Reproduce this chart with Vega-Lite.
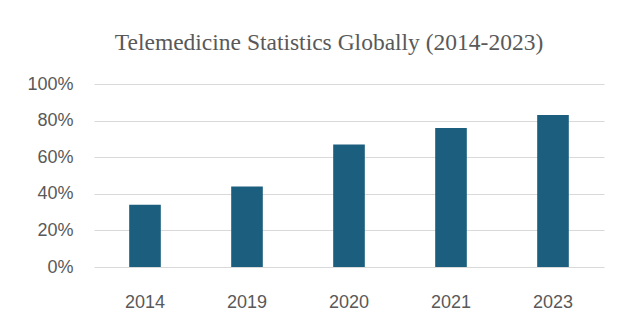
{
  "$schema": "https://vega.github.io/schema/vega-lite/v6.json",
  "width": 510,
  "height": 183,
  "autosize": {"type": "none"},
  "padding": {"left": 94, "top": 84, "right": 20, "bottom": 65},
  "background": "white",
  "title": {
    "text": "Telemedicine Statistics Globally (2014-2023)",
    "font": "Liberation Serif",
    "fontSize": 23.5,
    "fontWeight": "normal",
    "color": "#595959",
    "anchor": "middle",
    "dx": -20,
    "offset": 21
  },
  "data": {
    "values": [
      {"year": "2014", "share": 0.34},
      {"year": "2019", "share": 0.44},
      {"year": "2020", "share": 0.67},
      {"year": "2021", "share": 0.76},
      {"year": "2023", "share": 0.83}
    ]
  },
  "mark": {"type": "bar", "color": "#1b5e7e"},
  "encoding": {
    "x": {
      "field": "year",
      "type": "ordinal",
      "scale": {"paddingInner": 0.69, "paddingOuter": 0.345},
      "axis": {
        "title": null,
        "labelAngle": 0,
        "labelFont": "Liberation Sans",
        "labelFontSize": 18,
        "labelColor": "#595959",
        "labelPadding": 26,
        "ticks": false,
        "domain": false,
        "grid": false
      }
    },
    "y": {
      "field": "share",
      "type": "quantitative",
      "scale": {"domain": [0, 1]},
      "axis": {
        "title": null,
        "format": ".0%",
        "values": [0, 0.2, 0.4, 0.6, 0.8, 1],
        "labelFont": "Liberation Sans",
        "labelFontSize": 18,
        "labelColor": "#595959",
        "labelPadding": 21,
        "ticks": false,
        "domain": false,
        "grid": true,
        "gridColor": "#d9d9d9",
        "gridWidth": 1
      }
    }
  },
  "config": {"view": {"stroke": null}}
}
